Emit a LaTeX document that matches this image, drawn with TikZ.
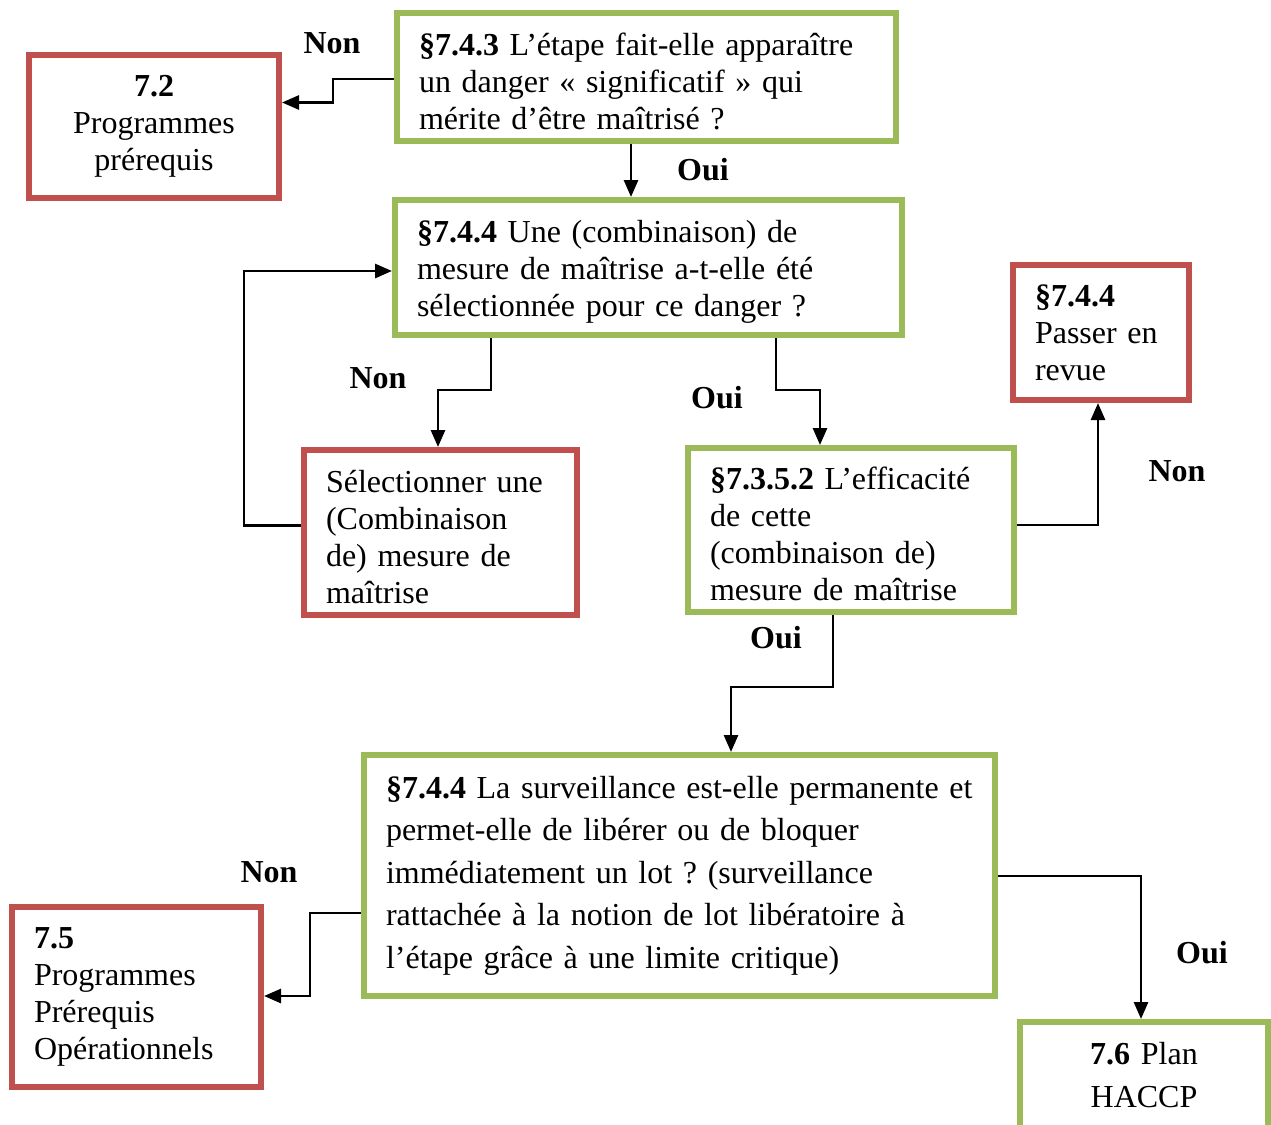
\documentclass[tikz,border=0pt]{standalone}
\usepackage{fontspec}
\setmainfont{Liberation Serif}
\usetikzlibrary{arrows.meta}
\definecolor{gframe}{HTML}{9BBB59}
\definecolor{rframe}{HTML}{C0504D}
\frenchspacing
\tikzset{
  box/.style={rectangle, line width=6pt, inner xsep=22pt, inner ysep=0pt, font=\fontsize{32}{37}\selectfont},
  gbox/.style={box, draw=gframe},
  rbox/.style={box, draw=rframe},
  down/.style={execute at begin node={\rule{0pt}{31pt}}},
  arr/.style={line width=2.8pt, -{Triangle[length=17pt,width=14pt]}},
  lab/.style={font=\fontsize{32}{37}\selectfont\bfseries, inner sep=0pt},
}
\begin{document}
\begin{tikzpicture}[x=1pt,y=-1pt]
\useasboundingbox (0,0) rectangle (1271,1124);
% boxes
\node[gbox, down, minimum width=499pt, minimum height=128pt, text width=455pt, align=left] (b1) at (646.5,77)
  {\textbf{§7.4.3} L’étape fait-elle apparaître\\un danger «~significatif~» qui\\mérite d’être maîtrisé ?};
\node[rbox, minimum width=250pt, minimum height=143pt, text width=206pt, align=center] (b72) at (154,126.5)
  {\textbf{7.2}\\Programmes\\prérequis};
\node[gbox, down, minimum width=507pt, minimum height=135pt, text width=463pt, align=left] (b2) at (648.5,267.5)
  {\textbf{§7.4.4} Une (combinaison) de\\mesure de maîtrise a-t-elle été\\sélectionnée pour ce danger ?};
\node[rbox, minimum width=176pt, minimum height=135pt, text width=132pt, align=left] (br) at (1101,332.5)
  {\textbf{§7.4.4}\\Passer en\\revue};
\node[rbox, down, minimum width=273pt, minimum height=165pt, text width=229pt, align=left] (bsel) at (440.5,532.5)
  {Sélectionner une\\(Combinaison\\de) mesure de\\maîtrise};
\node[gbox, down, minimum width=326pt, minimum height=164pt, text width=282pt, align=left] (b7352) at (851,530)
  {\textbf{§7.3.5.2} L’efficacité\\de cette\\(combinaison de)\\mesure de maîtrise};
\node[gbox, minimum width=631pt, minimum height=241pt, text width=587pt, align=left, font=\fontsize{32}{42.5}\selectfont] (b3) at (679.5,875.5)
  {\textbf{§7.4.4} La surveillance est-elle permanente et\\permet-elle de libérer ou de bloquer\\immédiatement un lot ? (surveillance\\rattachée à la notion de lot libératoire à\\l’étape grâce à une limite critique)};
\node[rbox, minimum width=249pt, minimum height=180pt, text width=205pt, align=left] (b75) at (136.5,997)
  {\textbf{7.5}\\Programmes\\Prérequis\\Opérationnels};
\node[gbox, minimum width=248pt, minimum height=106pt, text width=204pt, align=center, font=\fontsize{32}{42.5}\selectfont] (b76) at (1144,1075)
  {\textbf{7.6} Plan\\HACCP};
% labels
\node[lab] (l1) at (332,43) {Non};
\node[lab] (l2) at (703,170) {Oui};
\node[lab] (l3) at (378,378) {Non};
\node[lab] (l4) at (717,398) {Oui};
\node[lab] (l5) at (1177,471) {Non};
\node[lab] (l6) at (776,638) {Oui};
\node[lab] (l7) at (269,872) {Non};
\node[lab] (l8) at (1202,953) {Oui};
% connectors
\draw[arr] ([yshift=-2pt]b1.west) -- ++(-61,0) |- ([yshift=24pt]b72.east);
\draw[arr] ([xshift=-15.5pt]b1.south) -- ([xshift=-15.5pt]b1.south |- b2.north);
\draw[arr] ([xshift=-157.5pt]b2.south) -- ++(0,52) -| ([xshift=-2.5pt]bsel.north);
\draw[arr] ([yshift=7pt]bsel.west) -- ++(-57,0) |- ([yshift=-3.5pt]b2.west);
\draw[arr] ([xshift=127.5pt]b2.south) -- ++(0,52) -| ([xshift=-31pt]b7352.north);
\draw[arr] ([yshift=5pt]b7352.east) -| ([xshift=-3pt]br.south);
\draw[arr] ([xshift=-18pt]b7352.south) -- ++(0,72) -| ([xshift=51.5pt]b3.north);
\draw[arr] ([yshift=-37.5pt]b3.west) -- ++(-51,0) |- ([yshift=1pt]b75.east);
\draw[arr] ([yshift=-0.5pt]b3.east) -| ([xshift=-3pt]b76.north);
\end{tikzpicture}
\end{document}
